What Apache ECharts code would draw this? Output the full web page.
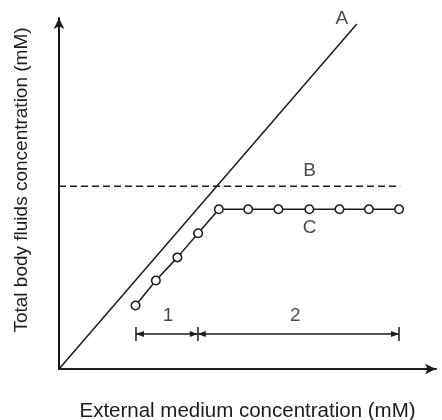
<!DOCTYPE html>
<html>
<head>
<meta charset="utf-8">
<script src="https://cdn.jsdelivr.net/npm/echarts@6/dist/echarts.min.js"></script>
<style>
  html, body { margin: 0; padding: 0; background: #fff; }
  #chart { width: 442px; height: 420px; }
</style>
</head>
<body>
<div id="chart"></div>
<script>
// Body-fluid concentration against external medium concentration
// (arbitrary units, 0–100 on both axes; no tick values are shown).

// A: conformer line, body fluids equal to the medium
const lineA = [[0, 0], [79.0, 98.3]];
// B: fixed regulated level
const lineB = [[0, 52.1], [90.5, 52.1]];
// C: measured points, conforming then regulating
const curveCx = [20.3, 25.7, 31.4, 36.9, 42.4, 50.2, 58.2, 66.4, 74.4, 82.2, 90.2];
const curveCy = [18.1, 25.2, 31.8, 38.7, 45.5, 45.5, 45.5, 45.5, 45.5, 45.5, 45.5];
// Ranges 1 and 2 along the medium axis, drawn at height rangeY
const rangeY = 10.0;
const rangeBarHalf = 2.0;
const range1 = [20.4, 36.8];
const range2 = [36.8, 90.2];
// Text labels: [text, x, y]
const labels = [
  ['A', 75.0, 99.9],
  ['B', 66.5, 56.5],
  ['C', 66.5, 40.3],
  ['1', 28.9, 15.2],
  ['2', 62.7, 15.2]
];

const INK = '#1c1c1c';
const FONT = '"Liberation Sans", Arial, Helvetica, sans-serif';

// Arrowhead whose tip sits at the centre of its 16x16 box, so the tip
// lands exactly on the range end instead of overshooting it.
const HEAD = 'path://M8,8 L11,16 L5,16 Z M0,0 L0,0 M16,0 L16,0';

const curveC = curveCx.map((x, i) => [x, curveCy[i]]);
const rangeBounds = [range1[0], range1[1], range2[1]];

const chart = echarts.init(document.getElementById('chart'), null, { renderer: 'canvas' });

const axisCommon = {
  type: 'value',
  min: 0,
  max: 100,
  axisLine: {
    show: true,
    symbol: ['none', 'arrow'],
    symbolSize: [8, 11],
    lineStyle: { color: INK, width: 2 }
  },
  axisTick: { show: false },
  axisLabel: { show: false },
  splitLine: { show: false }
};

chart.setOption({
  animation: false,
  backgroundColor: '#fff',
  textStyle: { fontFamily: FONT },
  grid: {
    left: 59, right: 6, top: 18, bottom: 51,
    containLabel: false,
    outerBoundsMode: 'none'
  },
  xAxis: Object.assign({}, axisCommon, {
    name: 'External medium concentration (mM)',
    nameLocation: 'middle',
    nameGap: 32,
    nameTextStyle: { fontSize: 20.5, color: INK, fontFamily: FONT }
  }),
  yAxis: Object.assign({}, axisCommon),
  graphic: [{
    type: 'text',
    x: 22,
    y: 180,
    rotation: Math.PI / 2,
    style: {
      text: 'Total body fluids concentration (mM)',
      fontSize: 19,
      fontFamily: FONT,
      fill: INK,
      align: 'center',
      verticalAlign: 'middle'
    }
  }],
  series: [
    {
      name: 'A',
      type: 'line',
      data: lineA,
      symbol: 'none',
      silent: true,
      lineStyle: { color: INK, width: 1.5 }
    },
    {
      name: 'B',
      type: 'line',
      data: lineB,
      symbol: 'none',
      silent: true,
      lineStyle: { color: INK, width: 1.5, type: [7, 4] }
    },
    {
      name: 'C',
      type: 'line',
      data: curveC,
      symbol: 'circle',
      symbolSize: 8.5,
      showAllSymbol: true,
      silent: true,
      z: 3,
      lineStyle: { color: INK, width: 1.5 },
      itemStyle: { color: '#fff', borderColor: INK, borderWidth: 1.5 }
    },
    {
      name: 'ranges',
      type: 'line',
      data: [],
      silent: true,
      markLine: {
        silent: true,
        animation: false,
        symbol: [HEAD, HEAD],
        symbolSize: 16,
        label: { show: false },
        lineStyle: { color: INK, width: 1.5, type: 'solid' },
        emphasis: { disabled: true },
        data: [
          [{ coord: [range1[0], rangeY] }, { coord: [range1[1], rangeY] }],
          [{ coord: [range2[0], rangeY] }, { coord: [range2[1], rangeY] }]
        ]
      }
    },
    {
      name: 'range bounds',
      type: 'line',
      data: [],
      silent: true,
      markLine: {
        silent: true,
        animation: false,
        symbol: ['none', 'none'],
        label: { show: false },
        lineStyle: { color: INK, width: 1.5, type: 'solid' },
        emphasis: { disabled: true },
        data: rangeBounds.map(x => [
          { coord: [x, rangeY - rangeBarHalf] },
          { coord: [x, rangeY + rangeBarHalf] }
        ])
      }
    },
    {
      name: 'labels',
      type: 'scatter',
      symbolSize: 0,
      silent: true,
      data: labels.map(l => ({ name: l[0], value: [l[1], l[2]] })),
      label: {
        show: true,
        position: 'inside',
        formatter: '{b}',
        fontSize: 19,
        fontFamily: FONT,
        color: INK
      }
    }
  ]
});
</script>
</body>
</html>
